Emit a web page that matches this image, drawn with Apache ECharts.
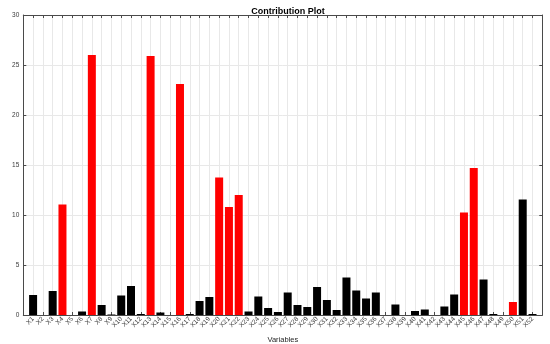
<!DOCTYPE html>
<html>
<head>
<meta charset="utf-8">
<script src="https://cdn.jsdelivr.net/npm/echarts@6/dist/echarts.min.js"></script>
<style>html,body{margin:0;padding:0;background:#fff}#c{width:550px;height:344px}</style>
</head>
<body>
<div id="c"></div>
<script>
const categories = Array.from({length: 52}, (_, i) => 'X' + (i + 1));
const contributions = [
  2.0, 0.0, 2.4, 11.05, 0.0, 0.35, 26.0, 1.0, 0.05, 1.95,
  2.9, 0.1, 25.9, 0.25, 0.0, 23.1, 0.1, 1.4, 1.8, 13.75,
  10.8, 12.0, 0.35, 1.85, 0.7, 0.3, 2.25, 1.0, 0.8, 2.8,
  1.5, 0.5, 3.75, 2.45, 1.65, 2.25, 0.0, 1.05, 0.0, 0.4,
  0.55, 0.0, 0.85, 2.05, 10.25, 14.7, 3.55, 0.1, 0.0, 1.3,
  11.55, 0.1
];
const highlighted = ['X4', 'X7', 'X13', 'X16', 'X20', 'X21', 'X22', 'X45', 'X46', 'X50'];
const yTicks = [0, 5, 10, 15, 20, 25, 30];

const axisColor = '#4a4a4a';
const gridColor = '#e8e8e8';
const font = 'Liberation Sans, Arial, sans-serif';

const barData = categories.map((c, i) => ({
  value: [i + 1, contributions[i]],
  itemStyle: { color: highlighted.includes(c) ? '#ff0000' : '#000000' }
}));

const chart = echarts.init(document.getElementById('c'), null, {renderer: 'canvas'});
chart.setOption({
  animation: false,
  title: {
    text: 'Contribution Plot',
    left: 283, top: 2, textAlign: 'center',
    textStyle: { fontSize: 9, fontWeight: 'bold', color: '#000', fontFamily: font }
  },
  grid: { left: 23.3, right: 7.7, top: 15, bottom: 29, containLabel: false, outerBoundsMode: 'none' },
  xAxis: [{
    type: 'value', min: 0, max: categories.length + 1, interval: 1,
    name: 'Variables', nameLocation: 'middle', nameGap: 19,
    nameTextStyle: { fontSize: 7.5, color: '#262626', fontFamily: font },
    axisLine: { show: true, onZero: false, lineStyle: { color: axisColor, width: 1 } },
    axisTick: { show: true, inside: true, length: 3, lineStyle: { color: axisColor } },
    axisLabel: {
      rotate: 45, fontSize: 6.5, color: '#3a3a3a', margin: 3,
      fontFamily: font,
      showMinLabel: false, showMaxLabel: false,
      formatter: v => (v >= 1 && v <= categories.length) ? categories[v - 1] : ''
    },
    splitLine: { show: true, lineStyle: { color: gridColor, width: 1 } }
  }, {
    type: 'value', position: 'top', min: 0, max: categories.length + 1, interval: 1,
    axisLine: { show: true, onZero: false, lineStyle: { color: axisColor, width: 1 } },
    axisTick: { show: true, inside: true, length: 3, lineStyle: { color: axisColor } },
    axisLabel: { show: false },
    splitLine: { show: false }
  }],
  yAxis: [{
    type: 'value', min: yTicks[0], max: yTicks[yTicks.length - 1], interval: yTicks[1] - yTicks[0],
    name: 'Contribution', nameLocation: 'middle', nameGap: 13, nameRotate: 90,
    nameTextStyle: { fontSize: 7.5, color: '#262626', fontFamily: font },
    axisLine: { show: true, onZero: false, lineStyle: { color: axisColor, width: 1 } },
    axisTick: { show: true, inside: true, length: 3, lineStyle: { color: axisColor } },
    axisLabel: { fontSize: 6.5, color: '#3a3a3a', margin: 4, fontFamily: font },
    splitLine: { show: true, lineStyle: { color: gridColor, width: 1 } }
  }, {
    type: 'value', position: 'right', min: yTicks[0], max: yTicks[yTicks.length - 1], interval: yTicks[1] - yTicks[0],
    axisLine: { show: true, onZero: false, lineStyle: { color: axisColor, width: 1 } },
    axisTick: { show: true, inside: true, length: 3, lineStyle: { color: axisColor } },
    axisLabel: { show: false },
    splitLine: { show: false }
  }],
  series: [{
    type: 'bar',
    xAxisIndex: 0, yAxisIndex: 0,
    barWidth: 8,
    data: barData
  }]
});
</script>
</body>
</html>
